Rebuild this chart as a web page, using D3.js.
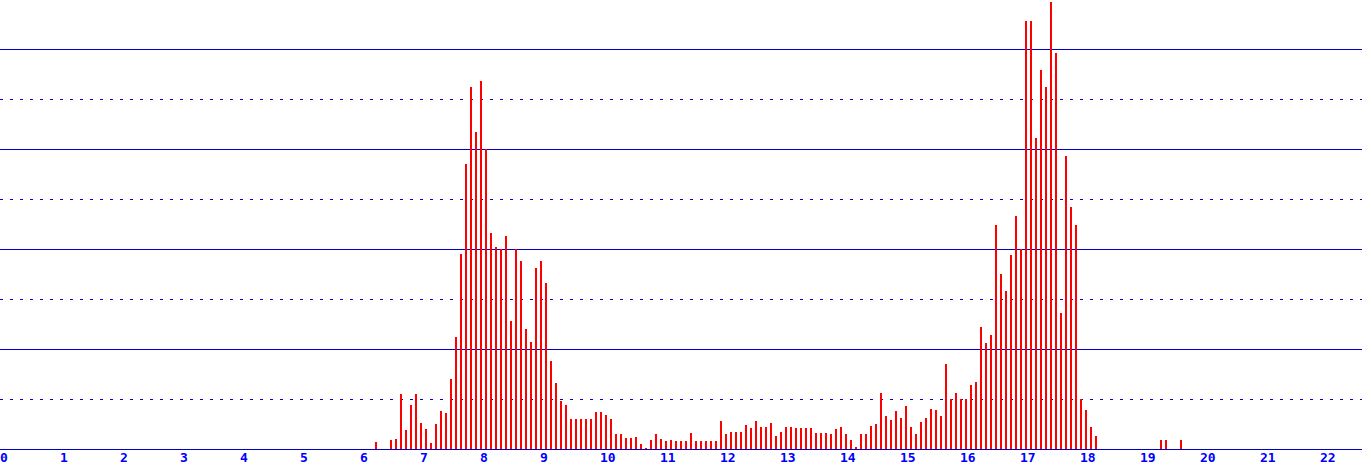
<!DOCTYPE html>
<html>
<head>
<meta charset="utf-8">
<script src="https://cdn.jsdelivr.net/npm/d3@7"></script>
<style>
  html, body { margin: 0; padding: 0; background: #fff; overflow: hidden; }
  svg { display: block; }
</style>
</head>
<body>
<svg id="chart" width="1362" height="469"></svg>
<script>
// 5-minute bins, first bin starts at 6:15 (375 minutes after midnight)
const firstBinMinute = 375;
const binMinutes = 5;
const counts = [
  7, 0, 0, 9, 10, 55, 19, 44, 55,
  26, 20, 6, 25, 38, 36, 70, 112, 195, 285, 362, 317,
  368, 300, 216, 202, 200, 213, 128, 200, 188, 120, 107, 181,
  188, 166, 88, 66, 48, 44, 30, 30, 30, 30, 30, 37,
  37, 34, 30, 15, 15, 11, 11, 12, 5, 1, 9, 15,
  10, 8, 9, 8, 8, 8, 16, 8, 8, 8, 8, 8,
  28, 15, 17, 17, 17, 24, 21, 28, 22, 22, 26, 13,
  17, 22, 22, 21, 21, 21, 21, 16, 16, 16, 15, 20,
  22, 15, 9, 2, 15, 15, 23, 25, 56, 33, 29, 38,
  31, 43, 22, 15, 27, 31, 40, 39, 33, 85, 50, 56,
  50, 50, 64, 67, 122, 106, 114, 224, 175, 158, 194, 233,
  200, 428, 428, 311, 379, 362, 447, 396, 136, 293, 242, 224,
  50, 39, 22, 13, 0, 0, 0, 0, 0, 0, 0, 0,
  0, 0, 0, 0, 9, 9, 0, 0, 9
];
const hourTicks = [0,1,2,3,4,5,6,7,8,9,10,11,12,13,14,15,16,17,18,19,20,21,22];
const solidLevels = [100, 200, 300, 400];
const dottedLevels = [50, 150, 250, 350];

const W = 1362, H = 469;
const baseY = 449;
const svg = d3.select("#chart");

// minutes since midnight -> px (60 px per hour)
const x = d3.scaleLinear().domain([0, 60]).range([0, 60]);
const y = d3.scaleLinear().domain([0, baseY]).range([baseY, 0]);

const lineColor = "#0000cc";

// gridlines
svg.append("g").selectAll("line").data(solidLevels).join("line")
  .attr("x1", 0).attr("x2", W)
  .attr("y1", d => y(d) + 0.5).attr("y2", d => y(d) + 0.5)
  .attr("stroke", lineColor).attr("stroke-width", 1);
svg.append("g").selectAll("line").data(dottedLevels).join("line")
  .attr("x1", 0).attr("x2", W)
  .attr("y1", d => y(d) + 0.5).attr("y2", d => y(d) + 0.5)
  .attr("stroke", lineColor).attr("stroke-width", 1)
  .attr("stroke-dasharray", "3,7");

// bars
const bins = counts.map((v, i) => ({ minute: firstBinMinute + i * binMinutes, v }));
svg.append("g").selectAll("rect").data(bins.filter(d => d.v > 0)).join("rect")
  .attr("x", d => x(d.minute))
  .attr("width", 2)
  .attr("y", d => y(d.v))
  .attr("height", d => baseY - y(d.v))
  .attr("fill", "#ff0000")
  .attr("shape-rendering", "crispEdges");

// baseline axis
svg.append("line")
  .attr("x1", 0).attr("x2", W)
  .attr("y1", baseY + 0.5).attr("y2", baseY + 0.5)
  .attr("stroke", lineColor).attr("stroke-width", 1);

// hour labels
svg.append("g").selectAll("text").data(hourTicks).join("text")
  .attr("x", d => x(d * 60))
  .attr("y", 462)
  .attr("text-anchor", "start")
  .attr("font-family", "'DejaVu Sans Mono', monospace")
  .attr("font-weight", "bold")
  .attr("font-size", "13px")
  .attr("fill", "#0000ff")
  .text(d => d);
</script>
</body>
</html>
